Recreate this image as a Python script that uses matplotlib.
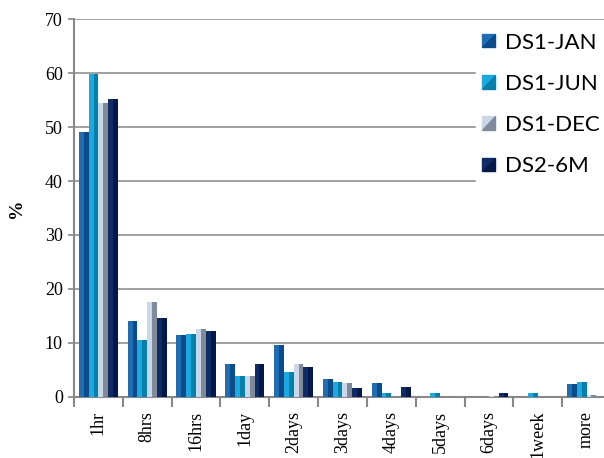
import matplotlib
matplotlib.use('Agg')
import numpy as np
import matplotlib.pyplot as plt
from matplotlib.patches import Polygon
from matplotlib.legend_handler import HandlerBase

# response time buckets and share of requests (%)
categories = ['1hr', '8hrs', '16hrs', '1day', '2days', '3days', '4days',
              '5days', '6days', '1week', 'more']
ds1_jan = [49.1, 14.1, 11.4, 6.1, 9.6, 3.3, 2.5, 0.0, 0.0, 0.0, 2.4]
ds1_jun = [59.8, 10.5, 11.6, 3.8, 4.7, 2.7, 0.7, 0.8, 0.0, 0.8, 2.7]
ds1_dec = [54.4, 17.5, 12.5, 3.9, 6.1, 2.6, 0.0, 0.0, 0.2, 0.0, 0.3]
ds2_6m = [55.2, 14.6, 12.2, 6.2, 5.6, 1.6, 1.8, 0.0, 0.8, 0.0, 0.0]

series = [('DS1-JAN', ds1_jan), ('DS1-JUN', ds1_jun),
          ('DS1-DEC', ds1_dec), ('DS2-6M', ds2_6m)]
# (light face, dark face) per series
shades = [('#1f6db5', '#0b4c88'), ('#19aae2', '#0b7ea8'),
          ('#cbd6e6', '#7f8a9a'), ('#0f2b68', '#061946')]

fig = plt.figure(figsize=(6.04, 4.58), dpi=100)
ax = fig.add_axes([0.1225, 0.1332, 0.889, 0.8253])

x = np.arange(len(categories)) + 0.5
w = 0.2
for i, ((name, vals), (light, dark)) in enumerate(zip(series, shades)):
    pos = x - 0.4 + w * i
    ax.bar(pos, vals, width=w / 2, align='edge', color=light, zorder=3)
    ax.bar(pos + w / 2, vals, width=w / 2, align='edge', color=dark, zorder=3)

ax.set_xlim(0, len(categories))
ax.set_ylim(0, 70)
ax.set_yticks(range(0, 71, 10))
ax.set_xticks(x)
ax.set_xticklabels(categories, rotation=90, family='Liberation Serif', fontsize=13)
ax.set_xticks(np.arange(len(categories) + 1), minor=True)
ax.tick_params(axis='x', which='major', length=0, pad=10)
ax.tick_params(axis='x', which='minor', length=7, width=1.5, color='#888888')
ax.tick_params(axis='y', length=4, width=1.2, color='#888888', pad=4)
for lab in ax.get_yticklabels():
    lab.set_family('Liberation Serif')
    lab.set_fontsize(13)

ax.grid(axis='y', color='#999999', linewidth=1.3, zorder=1)
for side in ['top', 'right']:
    ax.spines[side].set_visible(False)
for side in ['left', 'bottom']:
    ax.spines[side].set_color('#888888')
    ax.spines[side].set_linewidth(1.5)

ax.set_ylabel('%', family='Liberation Serif', fontsize=14, fontweight='bold',
              labelpad=14)


class SplitSquare(HandlerBase):
    def __init__(self, light, dark):
        super().__init__()
        self.light, self.dark = light, dark

    def create_artists(self, legend, orig_handle, xdescent, ydescent,
                       width, height, fontsize, trans):
        s = height * 0.85
        x0 = width - s - xdescent
        y0 = (height - s) / 2 - ydescent
        top = Polygon([[x0, y0], [x0, y0 + s], [x0 + s, y0 + s]],
                      closed=True, color=self.light, transform=trans)
        bot = Polygon([[x0, y0], [x0 + s, y0], [x0 + s, y0 + s]],
                      closed=True, color=self.dark, transform=trans)
        return [top, bot]


handles = [plt.Rectangle((0, 0), 1, 1) for _ in series]
handler_map = {h: SplitSquare(l, d) for h, (l, d) in zip(handles, shades)}
leg = fig.legend(handles, [n for n, _ in series], handler_map=handler_map,
                 loc='upper left', bbox_to_anchor=(476 / 604, 1 - 26 / 458),
                 frameon=True, fancybox=False, framealpha=1, edgecolor='white',
                 prop={'family': 'Lato', 'size': 16},
                 handlelength=0.55, handletextpad=0.45, labelspacing=0.95,
                 borderpad=0.3, borderaxespad=0)
leg.set_zorder(5)

fig.savefig('out.png', dpi=100)
